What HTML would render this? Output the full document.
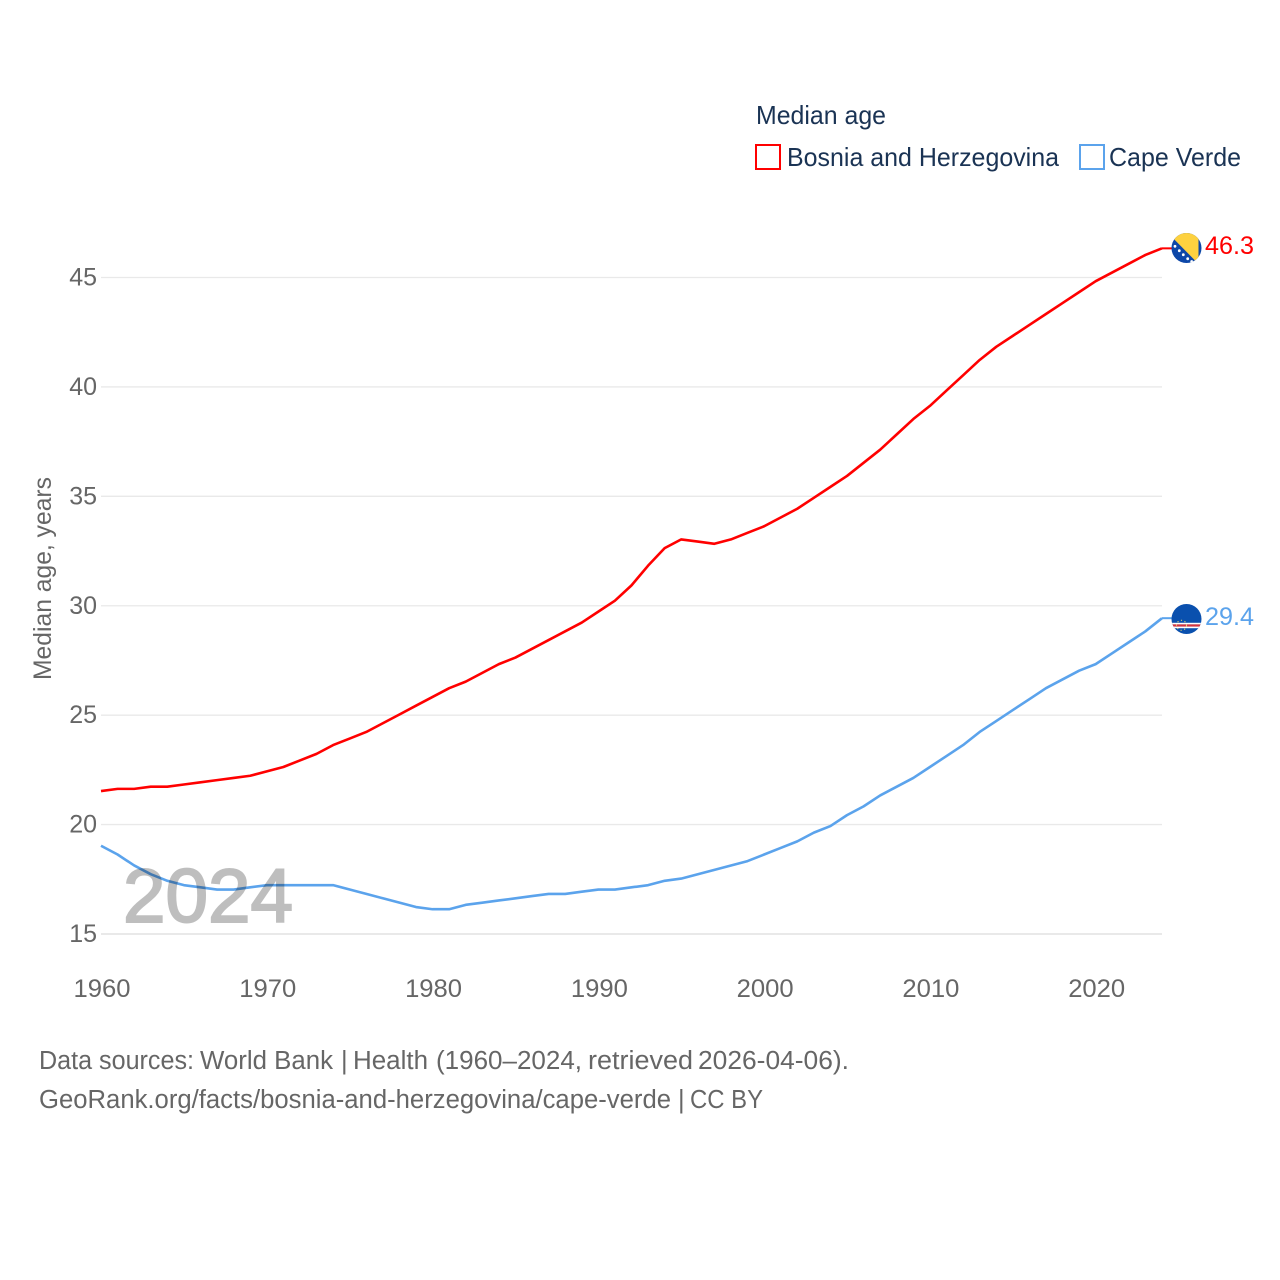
<!DOCTYPE html>
<html lang="en">
<head>
<meta charset="utf-8">
<title>Median age: Bosnia and Herzegovina vs Cape Verde</title>
<style>
html,body{margin:0;padding:0;background:#fff;width:1280px;height:1280px;overflow:hidden}
svg{display:block}
text{font-family:"Liberation Sans",sans-serif}
</style>
</head>
<body>
<svg id="chart" xmlns="http://www.w3.org/2000/svg" width="1280" height="1280" viewBox="0 0 1280 1280">
  <defs>
    <clipPath id="clip-ba"><circle cx="1186.5" cy="248" r="15"/></clipPath>
    <clipPath id="clip-cv"><circle cx="1186.5" cy="619" r="15"/></clipPath>
  </defs>
  <g id="grid"></g>
  <g id="yticks"></g>
  <g id="xticks"></g>
  <g id="series"></g>
  <text x="123" y="922" font-size="76" fill="#000" stroke="#000" stroke-width="2" opacity="0.25" textLength="170" lengthAdjust="spacingAndGlyphs">2024</text>
  <text transform="translate(51,680) rotate(-90)" font-size="25" fill="#666" textLength="203" lengthAdjust="spacingAndGlyphs">Median age, years</text>

  <text x="756" y="124" font-size="26" fill="#1a3354" textLength="130" lengthAdjust="spacingAndGlyphs">Median age</text>
  <g>
    <rect x="756" y="145" width="24" height="24" fill="#fff" stroke="#ff0000" stroke-width="2"/>
    <text x="787" y="166" font-size="26" fill="#1a3354" textLength="272" lengthAdjust="spacingAndGlyphs">Bosnia and Herzegovina</text>
  </g>
  <g>
    <rect x="1080" y="145" width="24" height="24" fill="#fff" stroke="#5ba3ec" stroke-width="2"/>
    <text x="1109" y="166" font-size="26" fill="#1a3354" textLength="132" lengthAdjust="spacingAndGlyphs">Cape Verde</text>
  </g>

  <g clip-path="url(#clip-ba)">
    <rect x="1171" y="232" width="31" height="32" fill="#0d47a8"/>
    <polygon points="1167,232 1198.5,232 1198.5,264" fill="#fdd13f"/>
    <g fill="#fff">
      <circle cx="1175" cy="246.3" r="1.4"/><circle cx="1179.3" cy="250.7" r="1.4"/><circle cx="1183.3" cy="254.7" r="1.4"/>
      <circle cx="1187.7" cy="258.7" r="1.4"/><circle cx="1191.7" cy="261.5" r="1.4"/>
    </g>
  </g>
  <g clip-path="url(#clip-cv)">
    <rect x="1171" y="603" width="31" height="32" fill="#0a50ae"/>
    <rect x="1171" y="622.8" width="31" height="1.6" fill="#fff"/>
    <rect x="1171" y="624.4" width="31" height="2.2" fill="#d8343c"/>
    <rect x="1171" y="626.6" width="31" height="1.6" fill="#fff"/>
    <circle cx="1181.5" cy="625.3" r="5" fill="none" stroke="#e8d36a" stroke-width="1" stroke-dasharray="1.2 2.6"/>
  </g>
  <text x="1205" y="254" font-size="25" fill="#ff0000" textLength="49" lengthAdjust="spacingAndGlyphs">46.3</text>
  <text x="1205" y="625" font-size="25" fill="#5ba3ec" textLength="49" lengthAdjust="spacingAndGlyphs">29.4</text>

  <g font-size="25.5" fill="#666">
    <text x="39" y="1069" textLength="155" lengthAdjust="spacingAndGlyphs">Data sources:</text>
    <text x="200" y="1069" textLength="133" lengthAdjust="spacingAndGlyphs">World Bank</text>
    <text x="341" y="1069">|</text>
    <text x="353" y="1069" textLength="75" lengthAdjust="spacingAndGlyphs">Health</text>
    <text x="436" y="1069" textLength="146" lengthAdjust="spacingAndGlyphs">(1960–2024,</text>
    <text x="588" y="1069" textLength="105" lengthAdjust="spacingAndGlyphs">retrieved</text>
    <text x="698" y="1069" textLength="151" lengthAdjust="spacingAndGlyphs">2026-04-06).</text>
  </g>
  <g font-size="25.5" fill="#666">
    <text x="39" y="1108" textLength="632" lengthAdjust="spacingAndGlyphs">GeoRank.org/facts/bosnia-and-herzegovina/cape-verde</text>
    <text x="678" y="1108">|</text>
    <text x="690" y="1108" textLength="73" lengthAdjust="spacingAndGlyphs">CC BY</text>
  </g>
</svg>
<script>
const startYear = 1960;
const yTickValues = [15, 20, 25, 30, 35, 40, 45];
const xTickValues = [1960, 1970, 1980, 1990, 2000, 2010, 2020];
const bosniaValues = [21.5,21.6,21.6,21.7,21.7,21.8,21.9,22.0,22.1,22.2,22.4,22.6,22.9,23.2,23.6,23.9,24.2,24.6,25.0,25.4,25.8,26.2,26.5,26.9,27.3,27.6,28.0,28.4,28.8,29.2,29.7,30.2,30.9,31.8,32.6,33.0,32.9,32.8,33.0,33.3,33.6,34.0,34.4,34.9,35.4,35.9,36.5,37.1,37.8,38.5,39.1,39.8,40.5,41.2,41.8,42.3,42.8,43.3,43.8,44.3,44.8,45.2,45.6,46.0,46.3];
const capeVerdeValues = [19.0,18.6,18.1,17.7,17.4,17.2,17.1,17.0,17.0,17.1,17.2,17.2,17.2,17.2,17.2,17.0,16.8,16.6,16.4,16.2,16.1,16.1,16.3,16.4,16.5,16.6,16.7,16.8,16.8,16.9,17.0,17.0,17.1,17.2,17.4,17.5,17.7,17.9,18.1,18.3,18.6,18.9,19.2,19.6,19.9,20.4,20.8,21.3,21.7,22.1,22.6,23.1,23.6,24.2,24.7,25.2,25.7,26.2,26.6,27.0,27.3,27.8,28.3,28.8,29.4];

const NS = 'http://www.w3.org/2000/svg';
const xScale = function (year) { return 101 + (year - 1960) * (1162 - 101) / 64; };
const yScale = function (v) { return 934 - (v - 15) * (934 - 277.5) / 30; };
const lineOffset = -0.7;
const connectorEndX = 1172;

const gridGroup = document.getElementById('grid');
const yGroup = document.getElementById('yticks');
const xGroup = document.getElementById('xticks');
const seriesGroup = document.getElementById('series');

yTickValues.forEach(function (v) {
  const line = document.createElementNS(NS, 'line');
  
  
  line.setAttribute('x1', 101);
  line.setAttribute('x2', 1162);
  line.setAttribute('y1', yScale(v));
  line.setAttribute('y2', yScale(v));
  line.setAttribute('stroke', '#e9e9e9');
  line.setAttribute('stroke-width', v === 15 ? 2 : 1.3);
  gridGroup.appendChild(line);

  const label = document.createElementNS(NS, 'text');
  
  
  label.setAttribute('x', 97);
  label.setAttribute('y', yScale(v) + 8);
  label.setAttribute('text-anchor', 'end');
  label.setAttribute('font-size', 25);
  label.setAttribute('fill', '#666');
  label.textContent = String(v);
  yGroup.appendChild(label);
});

xTickValues.forEach(function (year) {
  const label = document.createElementNS(NS, 'text');
  
  
  label.setAttribute('x', xScale(year) + 1);
  label.setAttribute('y', 997);
  label.setAttribute('text-anchor', 'middle');
  label.setAttribute('font-size', 25);
  label.setAttribute('textLength', 57);
  label.setAttribute('lengthAdjust', 'spacingAndGlyphs');
  label.setAttribute('fill', '#666');
  label.textContent = String(year);
  xGroup.appendChild(label);
});

function drawSeries(values, color, name) {
  const path = document.createElementNS(NS, 'path');
  
  
  const d = values.map(function (v, i) {
    return (i === 0 ? 'M' : 'L') + xScale(startYear + i).toFixed(2) + ' ' + (yScale(v) + lineOffset).toFixed(2);
  }).join(' ');
  path.setAttribute('d', d);
  path.setAttribute('fill', 'none');
  path.setAttribute('stroke', color);
  path.setAttribute('stroke-width', 2.6);
  path.setAttribute('stroke-linejoin', 'round');
  seriesGroup.appendChild(path);

  const lastIndex = values.length - 1;
  const connector = document.createElementNS(NS, 'line');
  
  
  connector.setAttribute('x1', xScale(startYear + lastIndex));
  connector.setAttribute('x2', connectorEndX);
  connector.setAttribute('y1', yScale(values[lastIndex]) + lineOffset);
  connector.setAttribute('y2', yScale(values[lastIndex]) + lineOffset);
  connector.setAttribute('stroke', color);
  connector.setAttribute('stroke-width', 2);
  seriesGroup.appendChild(connector);
}
drawSeries(bosniaValues, '#ff0000', 'line-bosnia');
drawSeries(capeVerdeValues, '#5ba3ec', 'line-cape-verde');
</script>
</body>
</html>
